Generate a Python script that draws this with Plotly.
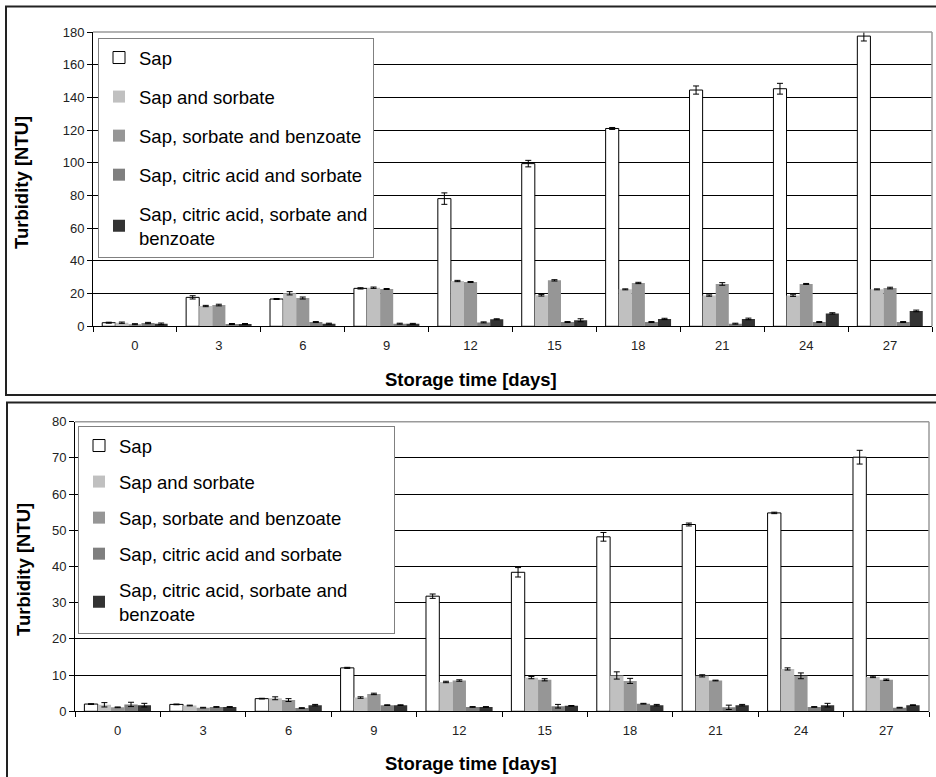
import plotly.graph_objects as go

W, H = 936, 777

days = ["0", "3", "6", "9", "12", "15", "18", "21", "24", "27"]
series_names = [
    "Sap",
    "Sap and sorbate",
    "Sap, sorbate and benzoate",
    "Sap, citric acid and sorbate",
    "Sap, citric acid, sorbate and<br>benzoate",
]
NBSP = "\u00a0"
series_names_bottom = series_names[:4] + [
    "Sap, citric acid, sorbate and" + NBSP * 8 + "<br>benzoate"
]
colors = ["#ffffff", "#c0c0c0", "#969696", "#7f7f7f", "#333333"]

# Top chart (0-180 NTU)
top_sap = [2.2, 17.7, 16.7, 23.2, 78.1, 99.5, 121.0, 144.5, 145.3, 177.5]
top_sorb = [2.2, 12.4, 20.2, 23.6, 27.7, 19.0, 22.6, 18.8, 18.8, 22.6]
top_sorb_benz = [1.3, 13.0, 17.3, 22.8, 27.1, 28.1, 26.5, 25.9, 25.9, 23.4]
top_cit_sorb = [2.0, 1.4, 2.6, 1.6, 2.4, 2.6, 2.6, 1.6, 2.6, 2.6]
top_all = [1.5, 1.4, 1.6, 1.5, 4.3, 3.7, 4.5, 4.5, 7.9, 9.4]

top_sap_err = [0.3, 1.0, 0.3, 0.4, 3.5, 2.0, 0.6, 2.5, 3.3, 3.0]
top_sorb_err = [0.4, 0.4, 1.0, 0.4, 0.4, 0.5, 0.3, 0.4, 0.5, 0.3]
top_sorb_benz_err = [0.3, 0.5, 0.6, 0.3, 0.3, 0.4, 0.4, 0.8, 0.3, 0.5]
top_cit_sorb_err = [0.4, 0.3, 0.3, 0.3, 0.3, 0.3, 0.3, 0.3, 0.3, 0.3]
top_all_err = [0.5, 0.3, 0.3, 0.3, 0.3, 0.9, 0.4, 0.5, 0.4, 0.5]

# Bottom chart (0-80 NTU)
bot_sap = [2.0, 1.9, 3.5, 12.0, 31.8, 38.4, 48.2, 51.6, 54.8, 70.2]
bot_sorb = [1.8, 1.6, 3.6, 3.8, 8.1, 9.3, 9.9, 9.8, 11.7, 9.5]
bot_sorb_benz = [1.1, 1.0, 3.1, 4.8, 8.5, 8.7, 8.4, 8.5, 9.8, 8.7]
bot_cit_sorb = [1.9, 1.2, 0.9, 1.7, 1.2, 1.4, 2.1, 1.1, 1.2, 1.0]
bot_all = [1.7, 1.2, 1.7, 1.7, 1.2, 1.5, 1.7, 1.7, 1.7, 1.7]

bot_sap_err = [0.1, 0.1, 0.1, 0.15, 0.6, 1.3, 1.2, 0.4, 0.2, 1.9]
bot_sorb_err = [0.6, 0.1, 0.4, 0.2, 0.2, 0.3, 1.0, 0.3, 0.3, 0.2]
bot_sorb_benz_err = [0.1, 0.1, 0.4, 0.2, 0.2, 0.3, 0.7, 0.1, 0.8, 0.2]
bot_cit_sorb_err = [0.6, 0.1, 0.1, 0.1, 0.1, 0.5, 0.1, 0.6, 0.1, 0.1]
bot_all_err = [0.5, 0.1, 0.2, 0.1, 0.1, 0.1, 0.2, 0.2, 0.5, 0.1]

top_values = [top_sap, top_sorb, top_sorb_benz, top_cit_sorb, top_all]
top_errors = [top_sap_err, top_sorb_err, top_sorb_benz_err, top_cit_sorb_err, top_all_err]
bot_values = [bot_sap, bot_sorb, bot_sorb_benz, bot_cit_sorb, bot_all]
bot_errors = [bot_sap_err, bot_sorb_err, bot_sorb_benz_err, bot_cit_sorb_err, bot_all_err]

FONT = "Liberation Sans, Arial, sans-serif"

def px(x):
    return x / W

def py(y):
    return 1 - y / H

fig = go.Figure()

for i, (vals, errs) in enumerate(zip(top_values, top_errors)):
    fig.add_trace(go.Bar(
        x=days, y=vals, name=series_names[i],
        xaxis="x", yaxis="y", legend="legend", legendgroup=f"t{i}",
        marker=dict(color=colors[i],
                    line=dict(color="#000000" if i == 0 else colors[i], width=1 if i == 0 else 0)),
        error_y=dict(type="data", array=errs, visible=True, color="#000000", thickness=1, width=3),
    ))

for i, (vals, errs) in enumerate(zip(bot_values, bot_errors)):
    fig.add_trace(go.Bar(
        x=days, y=vals, name=series_names_bottom[i],
        xaxis="x2", yaxis="y2", legend="legend2", legendgroup=f"b{i}",
        marker=dict(color=colors[i],
                    line=dict(color="#000000" if i == 0 else colors[i], width=1 if i == 0 else 0)),
        error_y=dict(type="data", array=errs, visible=True, color="#000000", thickness=1, width=3),
    ))

axis_font = dict(family=FONT, size=13, color="#222222")

xcommon = dict(type="category", showgrid=False, showline=True, linecolor="#000000", linewidth=1,
               ticks="outside", ticklen=5, tickcolor="#000000", tickson="boundaries",
               tickfont=axis_font, ticklabelstandoff=7, zeroline=False, automargin=False)
ycommon = dict(showgrid=True, gridcolor="#000000", gridwidth=1, showline=True, linecolor="#000000",
               linewidth=1, ticks="outside", ticklen=5, tickcolor="#000000", tickfont=axis_font,
               zeroline=False, automargin=False)

legend_font = dict(family=FONT, size=18.5, color="#000000")

fig.update_layout(
    width=W, height=H,
    margin=dict(l=0, r=0, t=0, b=0, pad=0, autoexpand=False),
    paper_bgcolor="white", plot_bgcolor="white",
    barmode="group", bargap=0.22, bargroupgap=0,
    font=dict(family=FONT, color="#000000"),
    xaxis=dict(domain=[px(93), px(932)], anchor="y", **xcommon),
    yaxis=dict(domain=[py(326.3), py(32)], anchor="x", range=[0, 180], dtick=20, **ycommon),
    xaxis2=dict(domain=[px(75), px(929)], anchor="y2", **xcommon),
    yaxis2=dict(domain=[py(711.3), py(421.7)], anchor="x2", range=[0, 80], dtick=10, **ycommon),
    legend=dict(x=px(98), y=py(38), xanchor="left", yanchor="top",
                bgcolor="white", bordercolor="#808080", borderwidth=1,
                font=legend_font, tracegroupgap=12, traceorder="grouped"),
    legend2=dict(x=px(78), y=py(426), xanchor="left", yanchor="top",
                 bgcolor="white", bordercolor="#808080", borderwidth=1,
                 font=legend_font, tracegroupgap=9, traceorder="grouped"),
    showlegend=True,
)

shapes = []
# outer frames
shapes.append(dict(type="rect", xref="paper", yref="paper", x0=px(6), x1=1.02, y0=py(395), y1=py(6.5),
                   line=dict(color="#222222", width=2), fillcolor="rgba(0,0,0,0)", layer="below"))
shapes.append(dict(type="rect", xref="paper", yref="paper", x0=px(7), x1=1.02, y0=-0.02, y1=py(402.5),
                   line=dict(color="#222222", width=2), fillcolor="rgba(0,0,0,0)", layer="below"))
# gray plot-area borders (top and right)
for xa, ya in [("x", "y"), ("x2", "y2")]:
    shapes.append(dict(type="line", xref=f"{xa} domain", yref=f"{ya} domain", x0=0, x1=1, y0=1, y1=1,
                       line=dict(color="#9a9a9a", width=1.5), layer="above"))
    shapes.append(dict(type="line", xref=f"{xa} domain", yref=f"{ya} domain", x0=1, x1=1, y0=0, y1=1,
                       line=dict(color="#9a9a9a", width=1.5), layer="above"))
fig.update_layout(shapes=shapes)

title_font = dict(family=FONT, size=18.5, color="#000000")
annotations = [
    dict(text="<b>Turbidity [NTU]</b>", xref="paper", yref="paper", x=px(22), y=py(183),
         textangle=-90, showarrow=False, font=title_font, xanchor="center", yanchor="middle"),
    dict(text="<b>Storage time [days]</b>", xref="paper", yref="paper", x=px(471), y=py(379),
         showarrow=False, font=title_font, xanchor="center", yanchor="middle"),
    dict(text="<b>Turbidity [NTU]</b>", xref="paper", yref="paper", x=px(23), y=py(570),
         textangle=-90, showarrow=False, font=title_font, xanchor="center", yanchor="middle"),
    dict(text="<b>Storage time [days]</b>", xref="paper", yref="paper", x=px(471), y=py(763),
         showarrow=False, font=title_font, xanchor="center", yanchor="middle"),
]
fig.update_layout(annotations=annotations)

fig.write_html(
    "out.html",
    config={"displayModeBar": False},
    post_script="document.body.style.margin='0';document.body.style.overflow='hidden';",
)
